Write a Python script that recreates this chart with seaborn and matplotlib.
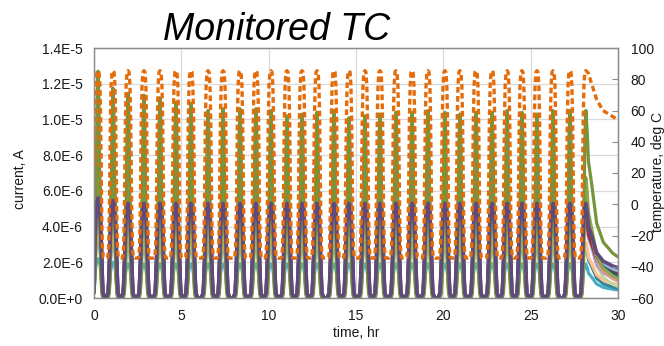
import numpy as np
import pandas as pd
import matplotlib
matplotlib.use("Agg")
import matplotlib.pyplot as plt
import seaborn as sns
from matplotlib.ticker import FuncFormatter, MultipleLocator

# ---------------- data ----------------
# times (hr) of the 32 thermal-cycle peaks
PEAK_TIMES = [0.23, 1.09, 1.95, 2.86, 3.78, 4.69, 5.55, 6.53, 7.39, 8.36, 9.27,
              10.13, 11.05, 11.91, 12.77, 13.74, 14.60, 15.51, 16.37, 17.29,
              18.21, 19.12, 20.09, 20.95, 21.87, 22.79, 23.65, 24.50, 25.36,
              26.28, 27.25, 28.16]

# one temperature cycle around its peak (offset hr, deg C)
TEMP_OFFSETS = [-0.40, -0.30, -0.25, -0.21, -0.18, -0.15, -0.11, -0.06, 0.0,
                0.06, 0.11, 0.15, 0.18, 0.21, 0.25, 0.30, 0.40]
TEMP_SHAPE = [-34.5, -34.0, -27.0, -5.0, 25.0, 55.0, 76.0, 84.5, 85.5,
              84.5, 76.0, 55.0, 25.0, -5.0, -27.0, -34.0, -34.5]
TEMP_START = 38.0
TEMP_TAIL_T = [28.30, 28.49, 28.78, 29.14, 29.71, 30.0]
TEMP_TAIL = [84.0, 77.0, 67.0, 60.0, 56.0, 54.0]

# normalised current pulse around each peak
PULSE_OFFSETS = [-0.40, -0.28, -0.22, -0.17, -0.13, -0.09, -0.05, 0.0,
                 0.05, 0.09, 0.13, 0.17, 0.22, 0.28, 0.40]
PULSE_WIDE = [0, 0.05, 0.30, 0.58, 0.78, 0.90, 0.97, 1.0,
              0.97, 0.90, 0.78, 0.58, 0.30, 0.05, 0]
PULSE_NARROW = [0, 0, 0.03, 0.12, 0.30, 0.58, 0.88, 1.0,
                0.88, 0.58, 0.30, 0.12, 0.03, 0, 0]
CUR_START = 0.3  # 1e-6 A at t = 0

# decay after the last cycle (hr after last peak, fraction of peak-to-end)
TAIL_DT = [0.08, 0.15, 0.33, 0.62, 1.00, 1.54, 1.84]
TAIL_FRAC = [0.85, 0.65, 0.50, 0.23, 0.10, 0.025, 0.0]

# main (green) channel, peak current of every cycle (1e-6 A)
GREEN_PEAKS = [12.7, 11.75, 11.47, 11.36, 11.2, 10.96, 10.9, 10.5, 10.6, 10.6,
               10.6, 10.5, 10.2, 10.3, 10.4, 10.5, 10.1, 10.2, 10.3, 10.4,
               10.4, 10.5, 10.4, 10.3, 10.4, 10.4, 10.5, 10.4, 10.3, 10.5,
               10.5, 10.5]
GREEN_TAIL = 2.3

# other channels: first, second and steady peak, end value at 30 hr (1e-6 A)
CH_NAMES = ["TC1", "TC2", "TC3", "TC4", "TC5", "TC6", "TC7", "TC8", "TC9", "TC10", "TC11"]
CH_FIRST = [2.2, 3.4, 3.6, 6.0, 5.0, 5.2, 5.0, 7.9, 7.0, 8.8, 5.6]
CH_SECOND = [2.0, 3.2, 3.3, 5.9, 4.8, 5.0, 4.8, 7.0, 6.4, 8.1, 5.45]
CH_STEADY = [1.9, 3.0, 3.1, 5.7, 4.6, 4.9, 4.7, 6.2, 6.0, 6.75, 5.3]
CH_END = [0.45, 0.55, 0.75, 0.65, 1.05, 1.5, 1.35, 0.95, 1.25, 1.1, 1.7]

# ---------------- styles ----------------
CH_COLORS = ["#4BACC6", "#31859C", "#FAC090", "#C3D69B", "#B3A2C7", "#8EB4E3",
             "#953735", "#D99694", "#215968", "#8AA84A", "#604A7B"]
CH_NARROW = [False, False, False, False, False, False, False, False, False, True, False]
GREEN_COLOR = "#77933C"
TEMP_COLOR = "#E46C0A"


def build_temperature():
    t, v = [0.0], [TEMP_START]
    n = len(PEAK_TIMES)
    for k, tp in enumerate(PEAK_TIMES):
        for off, val in zip(TEMP_OFFSETS, TEMP_SHAPE):
            tt = tp + off
            if tt <= 0.05:
                continue
            if k == n - 1 and off > 0:
                continue
            t.append(tt)
            v.append(val)
    t += TEMP_TAIL_T
    v += TEMP_TAIL
    return pd.DataFrame({"time": t, "temp": v})


def build_current(peaks, shape, end):
    t, v = [0.0], [CUR_START]
    n = len(PEAK_TIMES)
    for k, tp in enumerate(PEAK_TIMES):
        for off, frac in zip(PULSE_OFFSETS, shape):
            tt = tp + off
            if tt <= 0.04:
                continue
            if k == n - 1 and off > 0:
                continue
            t.append(tt)
            v.append(peaks[k] * frac)
    last = PEAK_TIMES[-1]
    for dt, g in zip(TAIL_DT, TAIL_FRAC):
        t.append(last + dt)
        v.append(end + (peaks[-1] - end) * g)
    return pd.DataFrame({"time": t, "current": np.array(v) * 1e-6})


sns.set_theme(style="white")
plt.rcParams["font.family"] = ["Liberation Sans", "DejaVu Sans"]

fig = plt.figure(figsize=(6.64, 3.46), dpi=100)
ax = fig.add_axes([94 / 664, 1 - 298 / 346, 524 / 664, 250 / 346])

for i in range(len(CH_NAMES) - 1):
    peaks = [CH_FIRST[i], CH_SECOND[i]] + [CH_STEADY[i]] * (len(PEAK_TIMES) - 2)
    df = build_current(peaks, PULSE_NARROW if CH_NARROW[i] else PULSE_WIDE, CH_END[i])
    sns.lineplot(data=df, x="time", y="current", ax=ax, color=CH_COLORS[i],
                 lw=2.3, estimator=None, sort=False)

dfg = build_current(GREEN_PEAKS, PULSE_NARROW, GREEN_TAIL)
sns.lineplot(data=dfg, x="time", y="current", ax=ax, color=GREEN_COLOR,
             lw=2.3, estimator=None, sort=False)

i = len(CH_NAMES) - 1
peaks = [CH_FIRST[i], CH_SECOND[i]] + [CH_STEADY[i]] * (len(PEAK_TIMES) - 2)
dfp = build_current(peaks, PULSE_WIDE, CH_END[i])
sns.lineplot(data=dfp, x="time", y="current", ax=ax, color=CH_COLORS[i],
             lw=2.6, estimator=None, sort=False)

ax.set_xlim(0, 30)
ax.set_ylim(0, 1.4e-5)
ax.xaxis.set_major_locator(MultipleLocator(5))
ax.yaxis.set_major_locator(MultipleLocator(2e-6))


def sci(v, pos):
    m, e = f"{v:.1E}".split("E")
    e = int(e)
    return f"{m}E+0" if e == 0 else f"{m}E{e}"


ax.yaxis.set_major_formatter(FuncFormatter(sci))
ax.grid(True, color="#D9D9D9", lw=0.9)
ax.set_xlabel("")
ax.set_ylabel("")
ax.tick_params(axis="both", length=0, labelsize=10, colors="#1a1a1a")
ax.tick_params(axis="y", pad=8)
ax.tick_params(axis="x", pad=8)

ax2 = ax.twinx()
dft = build_temperature()
sns.lineplot(data=dft, x="time", y="temp", ax=ax2, color=TEMP_COLOR,
             lw=2.4, estimator=None, sort=False)
ax2.lines[-1].set_dashes([1.7, 1.0])
ax2.set_ylim(-60, 100)
ax2.yaxis.set_major_locator(MultipleLocator(20))
ax2.set_ylabel("")
ax2.set_xlabel("")
ax2.grid(False)
ax2.tick_params(axis="y", direction="in", length=4, width=0.8, color="#8C8C8C",
                labelsize=10, labelcolor="#1a1a1a", pad=9)

for a in (ax, ax2):
    for s in a.spines.values():
        s.set_color("#8C8C8C")
        s.set_linewidth(0.9)

fig.text(277 / 664, 1 - 39.5 / 346, "Monitored TC", ha="center", va="baseline",
         fontsize=27, style="italic", color="black",
         family=["Liberation Sans", "DejaVu Sans"])
fig.text(356 / 664, 1 - 333 / 346, "time, hr", ha="center", va="center",
         fontsize=10, color="#1a1a1a")
fig.text(20 / 664, 1 - 179 / 346, "current, A", ha="center", va="center",
         rotation=90, fontsize=10, color="#1a1a1a")
fig.text(658 / 664, 1 - 172 / 346, "temperature, deg C", ha="center", va="center",
         rotation=90, fontsize=10, color="#1a1a1a")

fig.savefig("out.png", dpi=100)
